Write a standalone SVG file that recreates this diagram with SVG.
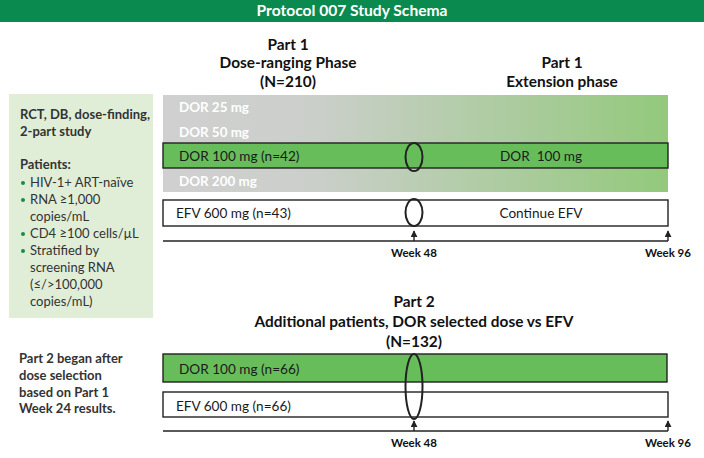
<svg xmlns="http://www.w3.org/2000/svg" width="704" height="458" viewBox="0 0 704 458">
<style>
text{font-family:Lato,"Open Sans","Liberation Sans",sans-serif;}
.title{font-size:15.6px;font-weight:bold;fill:#fff;text-anchor:middle;}
.hd{font-size:15.4px;font-weight:bold;fill:#111;text-anchor:middle;}
.lt{font-size:13px;fill:#333;}
.lb{font-size:13px;fill:#333;font-weight:bold;}
.row{font-size:13.6px;fill:#1a1a1a;}
.wt{font-size:13.4px;fill:#fff;font-weight:bold;}
.wk{font-size:11.5px;font-weight:bold;fill:#111;text-anchor:middle;}
.box{stroke:#222;stroke-width:1.4;}
.ax{stroke:#222;stroke-width:1.4;fill:none;}
.ell{fill:none;stroke:#222;stroke-width:2;}
</style>
<defs>
<linearGradient id="grad" x1="0" y1="0" x2="1" y2="0">
<stop offset="0" stop-color="#d0d0d0"/>
<stop offset="0.3" stop-color="#cbcfca"/>
<stop offset="1" stop-color="#93c97c"/>
</linearGradient>
<marker id="ah" viewBox="0 0 8 8" refX="7" refY="4" markerWidth="7" markerHeight="7" orient="auto" markerUnits="userSpaceOnUse">
<path d="M0,0 L8,4 L0,8 Z" fill="#222"/>
</marker>
</defs>

<g id="header">
<rect x="0" y="0" width="704" height="22" fill="#0b8a4f"/>
<text class="title" x="352" y="16">Protocol 007 Study Schema</text>
</g>

<g id="part1-heading">
<text class="hd" x="288" y="50">Part 1</text>
<text class="hd" x="288" y="68">Dose-ranging Phase</text>
<text class="hd" x="288" y="87">(N=210)</text>
</g>
<g id="ext-heading">
<text class="hd" x="562" y="68">Part 1</text>
<text class="hd" x="562" y="87">Extension phase</text>
</g>

<g id="info-box">
<rect x="9" y="94" width="144" height="224" fill="#e0eed8"/>
<text class="lb" x="20" y="119">RCT, DB, dose-finding,</text>
<text class="lb" x="20" y="136">2-part study</text>
<text class="lb" x="20" y="169">Patients:</text>
<g fill="#1e8a4a">
<circle cx="23" cy="183" r="2"/>
<circle cx="23" cy="200" r="2"/>
<circle cx="23" cy="234" r="2"/>
<circle cx="23" cy="251" r="2"/>
</g>
<text class="lt" x="30" y="187">HIV-1+ ART-naïve</text>
<text class="lt" x="30" y="204">RNA ≥1,000</text>
<text class="lt" x="30" y="221">copies/mL</text>
<text class="lt" x="30" y="238">CD4 ≥100 cells/µL</text>
<text class="lt" x="30" y="255">Stratified by</text>
<text class="lt" x="30" y="272">screening RNA</text>
<text class="lt" x="30" y="289">(≤/&gt;100,000</text>
<text class="lt" x="30" y="306">copies/mL)</text>
</g>

<g id="part2-note">
<text class="lb" x="19" y="363">Part 2 began after</text>
<text class="lb" x="19" y="380">dose selection</text>
<text class="lb" x="19" y="397">based on Part 1</text>
<text class="lb" x="19" y="413">Week 24 results.</text>
</g>

<g id="dose-band">
<rect x="163" y="95" width="505" height="97" fill="url(#grad)"/>
<text class="wt" x="179" y="112">DOR 25 mg</text>
<text class="wt" x="179" y="137">DOR 50 mg</text>
<text class="wt" x="179" y="186">DOR 200 mg</text>
</g>

<g id="dor100-p1">
<rect class="box" x="163" y="143" width="505" height="25" fill="#67bd5a"/>
<text class="row" x="179" y="161">DOR 100 mg (n=42)</text>
<text class="row" x="541" y="161" text-anchor="middle" xml:space="preserve">DOR  100 mg</text>
</g>

<g id="efv-p1">
<rect class="box" x="163" y="200" width="505" height="26" fill="#fff"/>
<text class="row" x="176" y="218">EFV 600 mg (n=43)</text>
<text class="row" x="541" y="218" text-anchor="middle">Continue EFV</text>
</g>

<g id="part2-heading">
<text class="hd" x="414" y="307">Part 2</text>
<text class="hd" x="414" y="327">Additional patients, DOR selected dose vs EFV</text>
<text class="hd" x="414" y="347">(N=132)</text>
</g>

<g id="dor100-p2">
<rect class="box" x="163" y="354" width="504" height="28" fill="#67bd5a"/>
<text class="row" x="179" y="374">DOR 100 mg (n=66)</text>
</g>

<g id="efv-p2">
<rect class="box" x="163" y="392" width="505" height="25" fill="#fff"/>
<text class="row" x="176" y="411">EFV 600 mg (n=66)</text>
</g>

<g id="connectors">
<ellipse class="ell" cx="414" cy="157" rx="8.5" ry="14"/>
<ellipse class="ell" cx="414" cy="212.5" rx="8.5" ry="13.5"/>
<ellipse class="ell" cx="414" cy="386.5" rx="8.5" ry="32.5"/>
<line class="ax" x1="163" y1="241" x2="668" y2="241"/>
<line class="ax" x1="414" y1="241" x2="414" y2="231" marker-end="url(#ah)"/>
<line class="ax" x1="668" y1="241" x2="668" y2="231" marker-end="url(#ah)"/>
<line class="ax" x1="163" y1="431" x2="668" y2="431"/>
<line class="ax" x1="414" y1="431" x2="414" y2="421" marker-end="url(#ah)"/>
<line class="ax" x1="668" y1="431" x2="668" y2="421" marker-end="url(#ah)"/>
</g>

<g id="week-labels">
<text class="wk" x="414" y="257">Week 48</text>
<text class="wk" x="668" y="257">Week 96</text>
<text class="wk" x="414" y="447">Week 48</text>
<text class="wk" x="668" y="447">Week 96</text>
</g>
</svg>
